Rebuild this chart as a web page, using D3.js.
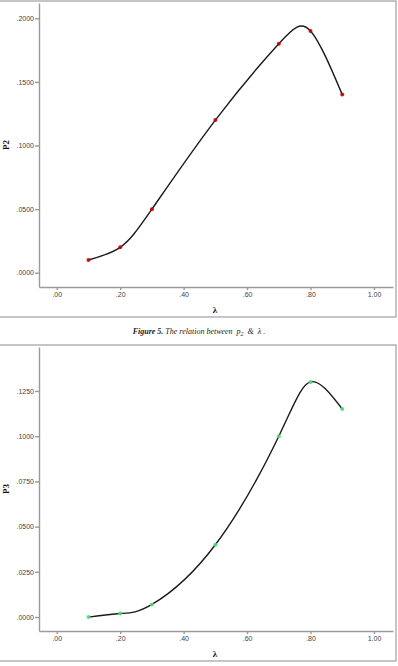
<!DOCTYPE html>
<html>
<head>
<meta charset="utf-8">
<script src="https://cdn.jsdelivr.net/npm/d3@7"></script>
<style>
  body { margin: 0; background: #fff; }
  .frame { fill: none; stroke: #8c8c8c; stroke-width: 1; }
  .axis path, .axis line { stroke: #9a9a9a; stroke-width: 1.4; }
  .axis text { font-family: "Liberation Sans", Arial, sans-serif; font-size: 7px; fill: #444; }
  .title { font-family: "Liberation Serif", "Times New Roman", serif; font-weight: bold; font-size: 9px; fill: #111; }
  .curve { fill: none; stroke: #1a1a1a; stroke-width: 1.4; }
  .caption { font-family: "Liberation Serif", "Times New Roman", serif; font-style: italic; font-size: 8px; fill: #222; }
</style>
</head>
<body>
<script>
//data
var lambda = [0.1, 0.2, 0.3, 0.5, 0.7, 0.8, 0.9];
var p2 = [0.010, 0.020, 0.050, 0.120, 0.180, 0.190, 0.140];
var p3 = [0.000, 0.002, 0.007, 0.040, 0.100, 0.130, 0.115];

//tick labels
var xTicks = [0, 0.2, 0.4, 0.6, 0.8, 1.0];
var p2Ticks = [0, 0.05, 0.10, 0.15, 0.20];
var p3Ticks = [0, 0.025, 0.05, 0.075, 0.10, 0.125];

var width = 398,
    height = 666;

var svg = d3.select("body")
    .append("svg")
    .attr("width", width)
    .attr("height", height);

function noLeadZero(fmt){
    var f = d3.format(fmt);
    return function(d){ return f(d).replace(/^0\./, "."); };
}

//draw one SPSS style panel
function drawPanel(opt){
    var g = svg.append("g");

    //panel frame
    g.append("rect")
        .attr("class", "frame")
        .attr("x", -2)
        .attr("y", opt.frameTop)
        .attr("width", 398)
        .attr("height", opt.frameBottom - opt.frameTop);

    var x = d3.scaleLinear()
        .domain([-0.056, 1.06])
        .range([39, 393]);

    var y = d3.scaleLinear()
        .domain(opt.yDomain)
        .range([opt.axisBottom, opt.axisTop]);

    var xAxis = d3.axisBottom(x)
        .tickValues(xTicks)
        .tickSizeInner(3)
        .tickSizeOuter(0)
        .tickPadding(2)
        .tickFormat(noLeadZero(".2f"));

    var yAxis = d3.axisLeft(y)
        .tickValues(opt.yTicks)
        .tickSizeInner(4)
        .tickSizeOuter(0)
        .tickPadding(1)
        .tickFormat(noLeadZero(".4f"));

    g.append("g")
        .attr("class", "axis")
        .attr("transform", "translate(0," + opt.axisBottom + ")")
        .call(xAxis);

    g.append("g")
        .attr("class", "axis")
        .attr("transform", "translate(39,0)")
        .call(yAxis);

    //axis titles
    g.append("text")
        .attr("class", "title")
        .attr("x", 215)
        .attr("y", opt.axisBottom + 26)
        .attr("text-anchor", "middle")
        .text("λ");

    g.append("text")
        .attr("class", "title")
        .attr("transform", "translate(9," + ((opt.axisTop + opt.axisBottom) / 2) + ") rotate(-90)")
        .attr("text-anchor", "middle")
        .text(opt.yLabel);

    var pts = lambda.map(function(d, i){ return [d, opt.values[i]]; });

    //interpolation line
    var line = d3.line()
        .x(function(d){ return x(d[0]); })
        .y(function(d){ return y(d[1]); })
        .curve(d3.curveNatural);

    g.append("path")
        .datum(pts)
        .attr("class", "curve")
        .attr("d", line);

    //markers
    g.selectAll(".dot")
        .data(pts)
        .enter()
        .append("circle")
        .attr("class", "dot")
        .attr("cx", function(d){ return x(d[0]); })
        .attr("cy", function(d){ return y(d[1]); })
        .attr("r", 2)
        .attr("fill", opt.dotColor)
        .attr("fill-opacity", 0.9);
}

drawPanel({
    frameTop: 1, frameBottom: 317,
    axisTop: 3, axisBottom: 287,
    yDomain: [-0.0112, 0.212],
    yTicks: p2Ticks,
    yLabel: "P2",
    values: p2,
    dotColor: "#c40000"
});

drawPanel({
    frameTop: 345, frameBottom: 661,
    axisTop: 347, axisBottom: 631,
    yDomain: [-0.0077, 0.1493],
    yTicks: p3Ticks,
    yLabel: "P3",
    values: p3,
    dotColor: "#4fdc7a"
});

//figure caption between the panels
var cap = svg.append("text")
    .attr("class", "caption")
    .attr("x", 199)
    .attr("y", 334)
    .attr("text-anchor", "middle");

cap.append("tspan").attr("font-weight", "bold").text("Figure 5.");
cap.append("tspan").text(" The relation between\u00a0\u00a0p");
cap.append("tspan").attr("font-size", "6px").attr("dy", 1.5).text("2");
cap.append("tspan").attr("dy", -1.5).text("\u00a0\u00a0&\u00a0\u00a0λ\u00a0.");
</script>
</body>
</html>
